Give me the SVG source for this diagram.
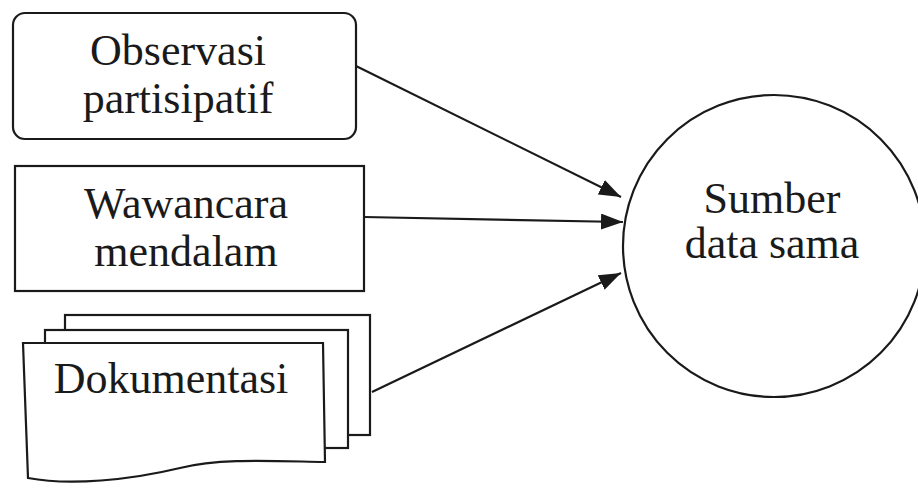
<svg xmlns="http://www.w3.org/2000/svg" width="918" height="494" viewBox="0 0 918 494">
<style>
.shape{fill:#fff;stroke:#1a1a1a;stroke-width:2.2}
.lbl{font-family:"Liberation Serif","Times New Roman",serif;font-size:44px;fill:#1a1a1a;text-anchor:middle}
.conn{stroke:#1a1a1a;stroke-width:2.2;fill:none;marker-end:url(#ah)}
</style>
<defs>
<marker id="ah" markerWidth="22" markerHeight="16" refX="22" refY="8" orient="auto" markerUnits="userSpaceOnUse" viewBox="0 0 22 16">
<path d="M0,0 L22,8 L0,16 Z" fill="#1a1a1a"/>
</marker>
</defs>
<rect width="918" height="494" fill="#fff"/>
<g id="observasi">
<rect class="shape" x="13" y="13" width="343" height="126" rx="12"/>
<text class="lbl" x="178" y="65">Observasi</text>
<text class="lbl" x="178" y="113">partisipatif</text>
</g>
<g id="wawancara">
<rect class="shape" x="15" y="166" width="349" height="125"/>
<text class="lbl" x="186" y="218">Wawancara</text>
<text class="lbl" x="186" y="266">mendalam</text>
</g>
<g id="dokumentasi">
<rect class="shape" x="65" y="315" width="305" height="120"/>
<rect class="shape" x="45" y="330" width="303" height="118"/>
<path class="shape" d="M23,343 L323,343 L325,462 C270,461 220,458 180,468 C130,480 70,486 28,478 Z"/>
<text class="lbl" x="171" y="393">Dokumentasi</text>
</g>
<g id="sumber">
<circle class="shape" cx="774" cy="246" r="151"/>
<text class="lbl" x="772" y="213">Sumber</text>
<text class="lbl" x="772" y="258">data sama</text>
</g>
<g id="connectors">
<line class="conn" x1="356" y1="66" x2="621" y2="197"/>
<line class="conn" x1="364" y1="217" x2="623" y2="222"/>
<line class="conn" x1="372" y1="392" x2="621" y2="273"/>
</g>
</svg>
